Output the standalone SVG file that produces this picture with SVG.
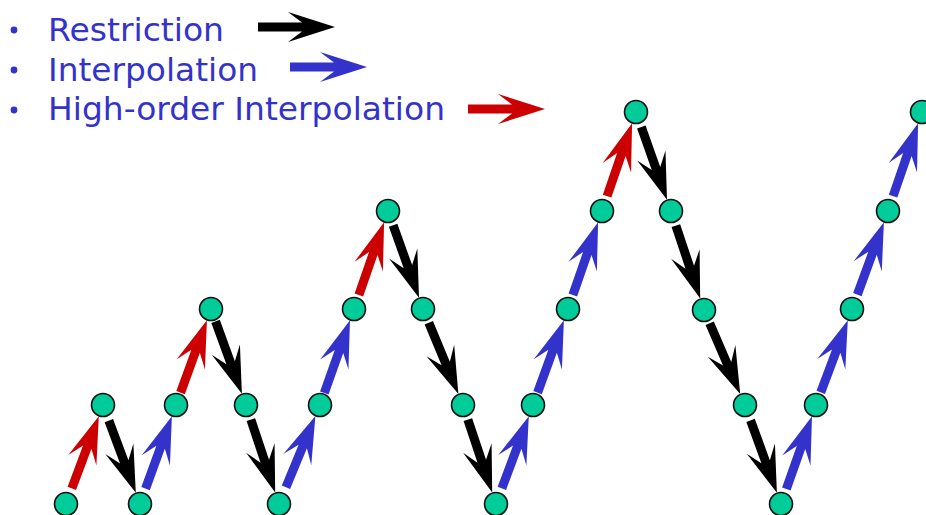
<svg xmlns="http://www.w3.org/2000/svg" xmlns:xlink="http://www.w3.org/1999/xlink" width="926" height="515" viewBox="0 0 926 515">
<style>
.lbl{font-family:"DejaVu Sans","Liberation Sans",sans-serif;font-size:32px;fill:#3333cc;}
.bul{fill:#3333cc;}
.node{fill:#00cc99;stroke:#111;stroke-width:1.6;}
.r{fill:#000;}
.i{fill:#3333cc;}
.h{fill:#cc0000;}
</style>
<defs>
<path id="arr" d="M-77,-4.5 L-33,-4.5 L-47,-15 L0,0 L-47,15 L-33,4.5 L-77,4.5 Z"/>
</defs>
<rect width="926" height="515" fill="#fff"/>
<g id="legend">
<circle class="bul" cx="14" cy="30" r="3.4"/>
<circle class="bul" cx="14" cy="70" r="3.4"/>
<circle class="bul" cx="14" cy="110" r="3.4"/>
<text class="lbl" x="48" y="41" textLength="176" lengthAdjust="spacingAndGlyphs">Restriction</text>
<text class="lbl" x="48" y="81" textLength="210" lengthAdjust="spacingAndGlyphs">Interpolation</text>
<text class="lbl" x="48" y="120" textLength="397" lengthAdjust="spacingAndGlyphs">High-order Interpolation</text>
<use xlink:href="#arr" class="r" transform="translate(335,27)"/>
<use xlink:href="#arr" class="i" transform="translate(367,67)"/>
<use xlink:href="#arr" class="h" transform="translate(545,109)"/>
</g>
<g id="connectors">
<use xlink:href="#arr" class="h" transform="translate(98.8,416.2) rotate(-69.5)"/>
<use xlink:href="#arr" class="r" transform="translate(135.8,492.8) rotate(69.5)"/>
<use xlink:href="#arr" class="i" transform="translate(171.9,416.3) rotate(-70)"/>
<use xlink:href="#arr" class="h" transform="translate(206.9,320.3) rotate(-70)"/>
<use xlink:href="#arr" class="r" transform="translate(241.9,393.7) rotate(70)"/>
<use xlink:href="#arr" class="r" transform="translate(275.2,492.6) rotate(71.57)"/>
<use xlink:href="#arr" class="i" transform="translate(315.4,416.1) rotate(-67.5)"/>
<use xlink:href="#arr" class="i" transform="translate(350,320.3) rotate(-70.5)"/>
<use xlink:href="#arr" class="h" transform="translate(384.1,222.3) rotate(-70.87)"/>
<use xlink:href="#arr" class="r" transform="translate(419,297.7) rotate(70.35)"/>
<use xlink:href="#arr" class="r" transform="translate(458.4,393.9) rotate(67.38)"/>
<use xlink:href="#arr" class="r" transform="translate(492.2,492.6) rotate(71.57)"/>
<use xlink:href="#arr" class="i" transform="translate(528.8,416.2) rotate(-69.5)"/>
<use xlink:href="#arr" class="i" transform="translate(563.9,320.3) rotate(-70)"/>
<use xlink:href="#arr" class="i" transform="translate(598.1,222.3) rotate(-70.87)"/>
<use xlink:href="#arr" class="h" transform="translate(632.1,123.3) rotate(-71.05)"/>
<use xlink:href="#arr" class="r" transform="translate(667,199.7) rotate(70.53)"/>
<use xlink:href="#arr" class="r" transform="translate(700.2,298.6) rotate(71.57)"/>
<use xlink:href="#arr" class="r" transform="translate(740.2,394) rotate(66.66)"/>
<use xlink:href="#arr" class="r" transform="translate(776.9,492.7) rotate(70)"/>
<use xlink:href="#arr" class="i" transform="translate(812,416.3) rotate(-70.53)"/>
<use xlink:href="#arr" class="i" transform="translate(847.8,320.2) rotate(-69.44)"/>
<use xlink:href="#arr" class="i" transform="translate(883.9,222.3) rotate(-69.83)"/>
<use xlink:href="#arr" class="i" transform="translate(918.1,123.3) rotate(-71.05)"/>
</g>
<g id="n0"><circle class="node" cx="66" cy="504" r="11.5"/></g>
<g id="n1"><circle class="node" cx="103" cy="405" r="11.5"/></g>
<g id="n2"><circle class="node" cx="140" cy="504" r="11.5"/></g>
<g id="n3"><circle class="node" cx="176" cy="405" r="11.5"/></g>
<g id="n4"><circle class="node" cx="211" cy="309" r="11.5"/></g>
<g id="n5"><circle class="node" cx="246" cy="405" r="11.5"/></g>
<g id="n6"><circle class="node" cx="279" cy="504" r="11.5"/></g>
<g id="n7"><circle class="node" cx="320" cy="405" r="11.5"/></g>
<g id="n8"><circle class="node" cx="354" cy="309" r="11.5"/></g>
<g id="n9"><circle class="node" cx="388" cy="211" r="11.5"/></g>
<g id="n10"><circle class="node" cx="423" cy="309" r="11.5"/></g>
<g id="n11"><circle class="node" cx="463" cy="405" r="11.5"/></g>
<g id="n12"><circle class="node" cx="496" cy="504" r="11.5"/></g>
<g id="n13"><circle class="node" cx="533" cy="405" r="11.5"/></g>
<g id="n14"><circle class="node" cx="568" cy="309" r="11.5"/></g>
<g id="n15"><circle class="node" cx="602" cy="211" r="11.5"/></g>
<g id="n16"><circle class="node" cx="636" cy="112" r="11.5"/></g>
<g id="n17"><circle class="node" cx="671" cy="211" r="11.5"/></g>
<g id="n18"><circle class="node" cx="704" cy="310" r="11.5"/></g>
<g id="n19"><circle class="node" cx="745" cy="405" r="11.5"/></g>
<g id="n20"><circle class="node" cx="781" cy="504" r="11.5"/></g>
<g id="n21"><circle class="node" cx="816" cy="405" r="11.5"/></g>
<g id="n22"><circle class="node" cx="852" cy="309" r="11.5"/></g>
<g id="n23"><circle class="node" cx="888" cy="211" r="11.5"/></g>
<g id="n24"><circle class="node" cx="922" cy="112" r="11.5"/></g>
</svg>
